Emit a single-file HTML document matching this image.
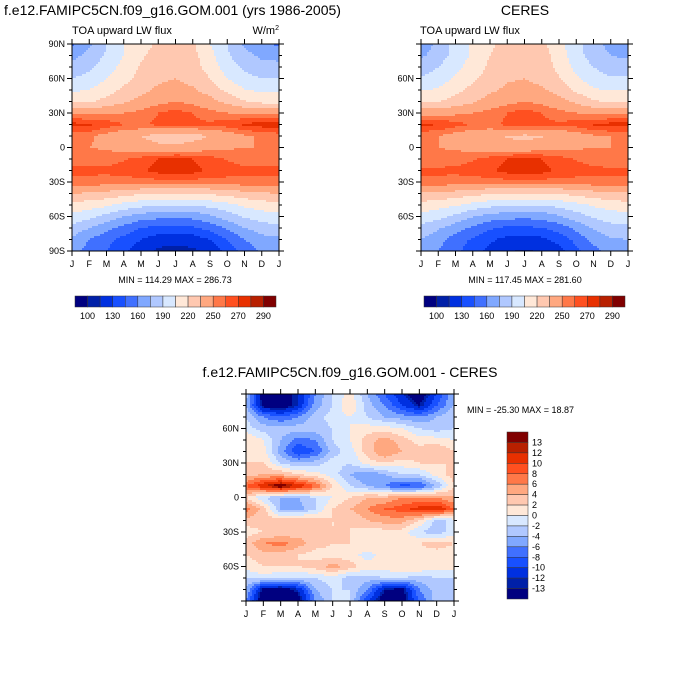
<!DOCTYPE html>
<html><head><meta charset="utf-8">
<style>
html,body{margin:0;padding:0;background:#fff;}
svg{display:block;font-family:"Liberation Sans",sans-serif;}
</style></head>
<body>
<svg id="chart" width="700" height="700" viewBox="0 0 700 700" xmlns="http://www.w3.org/2000/svg">
<text x="4" y="15" font-size="14">f.e12.FAMIPC5CN.f09_g16.GOM.001 (yrs 1986-2005)</text>
<text x="525" y="15" font-size="14" text-anchor="middle">CERES</text>
<text x="72" y="34" font-size="11">TOA upward LW flux</text>
<text x="279" y="34" font-size="11" text-anchor="end">W/m<tspan font-size="7" dy="-4">2</tspan></text>
<text x="420" y="34" font-size="11">TOA upward LW flux</text>
<text x="175" y="283" font-size="9" text-anchor="middle">MIN = 114.29 MAX = 286.73</text>
<text x="525" y="283" font-size="9" text-anchor="middle">MIN = 117.45 MAX = 281.60</text>
<text x="350" y="377" font-size="14" text-anchor="middle">f.e12.FAMIPC5CN.f09_g16.GOM.001 - CERES</text>
<text x="467" y="413" font-size="9">MIN = -25.30 MAX =  18.87</text>
<g id="layer"></g>
</svg>
<script>
const months = ["J","F","M","A","M","J","J","A","S","O","N","D","J"];
const lats = [90,80,70,60,50,40,30,20,10,0,-10,-20,-30,-40,-50,-60,-70,-80,-90];
const fluxLevels = [100,115,130,145,160,175,190,205,220,235,250,260,270,280,290];
const fluxTicks = ["100","130","160","190","220","250","270","290"];
const diffLevels = [-13,-12,-10,-8,-6,-4,-2,0,2,4,6,8,10,12,13];
const diffTicks = ["13","12","10","8","6","4","2","0","-2","-4","-6","-8","-10","-12","-13"];
const colors = ["#000080","#0020a8","#0030e0","#1850ff","#4070ff","#80a8ff","#b0c8ff","#d8e8ff","#ffe8d8","#ffc8b0","#ffa880","#ff7848","#ff5020","#e83000","#b82000","#800000"];
const modelFlux = [
[158,172,190,205,215,222,225,222,205,190,172,162,158],
[170,180,192,205,218,225,228,225,210,192,180,172,170],
[180,187,198,210,222,228,230,226,214,198,187,180,180],
[190,195,205,215,225,232,235,230,220,205,195,190,190],
[202,206,213,223,231,238,240,237,229,216,206,202,202],
[216,218,225,233,240,246,250,246,240,231,221,216,216],
[246,246,248,250,254,260,264,260,254,250,248,246,246],
[274,272,266,260,259,262,264,262,262,266,272,275,276],
[255,252,245,238,235,230,228,230,235,240,248,252,255],
[250,250,248,245,240,238,238,240,245,248,250,250,250],
[256,256,256,259,264,270,272,270,264,259,256,256,256],
[262,262,262,265,268,274,276,274,268,265,262,262,262],
[258,258,256,255,255,256,258,256,255,256,258,258,258],
[235,233,230,226,222,220,220,220,222,226,230,233,235],
[215,212,208,200,195,190,190,190,195,200,208,212,215],
[200,195,185,175,168,165,163,165,172,182,192,198,200],
[185,175,165,155,145,140,140,142,150,162,175,182,185],
[172,160,150,140,130,122,120,122,130,145,160,170,172],
[165,155,145,132,122,112,110,112,120,135,150,162,165]];
const ceresFlux = [
[165,180,195,208,218,224,226,224,210,195,180,170,165],
[172,183,195,208,220,227,229,227,213,196,183,175,172],
[182,190,200,212,223,229,231,228,216,200,190,182,182],
[192,197,207,217,226,233,235,231,221,207,197,192,192],
[204,207,215,225,232,238,240,237,230,217,207,204,204],
[217,219,226,233,241,246,250,246,240,232,222,217,217],
[245,245,247,250,254,260,265,260,254,250,247,245,245],
[273,270,264,259,258,262,264,262,262,265,271,274,274],
[252,250,244,240,237,234,232,234,238,242,248,250,252],
[250,250,248,245,242,240,240,242,245,248,250,250,250],
[255,255,256,259,264,270,272,270,264,259,256,255,255],
[262,262,262,265,268,274,276,274,268,265,262,262,262],
[258,258,256,255,255,256,258,256,255,256,258,258,258],
[234,232,229,225,221,219,219,219,221,225,229,232,234],
[214,211,207,200,195,190,190,190,195,200,207,211,214],
[200,195,186,176,169,166,164,166,173,183,192,198,200],
[186,177,167,157,147,142,142,144,152,164,177,184,186],
[175,165,153,143,133,125,123,126,135,150,165,173,175],
[170,160,150,136,125,116,114,116,125,140,155,166,170]];
const diffVals = [
[-3,-15,-15,-12,-6,-2,1,-4,-8,-12,-15,-10,-4],
[-4,-14,-15,-12,-5,-2,2,-3,-6,-10,-13,-8,-4],
[-2,-6,-8,-6,-3,-1,0,-2,-4,-5,-6,-4,-2],
[-1,-3,-3,-3,-3,-2,0,1,1,0,-2,-3,-2],
[2,0,-4,-7,-6,-2,0,3,5,3,1,1,0],
[2,1,-5,-10,-8,-3,-1,3,6,4,3,4,2],
[2,2,-2,-4,-3,-1,-2,1,2,1,2,2,2],
[3,4,4,2,1,-1,-4,-6,-4,-2,-2,1,3],
[8,12,15,12,8,2,-2,-4,-6,-9,-8,-4,2],
[2,-2,-4,-4,-2,0,2,4,4,6,6,6,4],
[7,3,-4,-5,-2,2,4,6,8,9,11,12,8],
[3,3,3,4,3,2,2,4,5,5,2,-3,-1],
[1,2,2,3,3,2,2,1,1,1,-2,-3,-1],
[3,6,7,5,3,2,2,2,1,1,2,3,2],
[2,3,3,2,1,1,1,-1,1,1,1,1,1],
[1,2,2,2,3,5,3,1,1,2,2,1,1],
[-2,-1,-2,-2,-2,-1,-3,-3,-2,-2,-3,-2,-2],
[-4,-14,-15,-12,-4,-2,-2,-6,-13,-14,-6,-3,-3],
[-6,-16,-16,-15,-6,-2,-2,-10,-15,-15,-8,-3,-4]];

const NS="http://www.w3.org/2000/svg";
const layer=document.getElementById('layer');
function mk(tag,attrs,parent){const e=document.createElementNS(NS,tag);for(const k in attrs)e.setAttribute(k,attrs[k]);(parent||layer).appendChild(e);return e;}
function colorFor(v,levels){let i=0;while(i<levels.length&&v>=levels[i])i++;return colors[i];}
function sample(grid,m,lat){
  const r=(90-lat)/10, c=m;
  const r0=Math.min(Math.floor(r),17), c0=Math.min(Math.floor(c),11);
  const fr=r-r0, fc=c-c0;
  return grid[r0][c0]*(1-fr)*(1-fc)+grid[r0][c0+1]*(1-fr)*fc+grid[r0+1][c0]*fr*(1-fc)+grid[r0+1][c0+1]*fr*fc;
}
function panel(name,x0,y0,W,H,grid,levels,yLabels){
  const g=mk('g',{});
  
  
  const xs=m=>x0+m/12*W, ys=l=>y0+(90-l)/180*H;
  const step=2, n=Math.ceil(H/step), nx=Math.ceil(W/step);
  for(let j=0;j<n;j++){
    const py=y0+j*step, lat=90-((j+0.5)*step)/H*180;
    let runStart=0, runCol=null;
    for(let i=0;i<=nx;i++){
      let col=null;
      if(i<nx){const m=((i+0.5)*step)/W*12;col=colorFor(sample(grid,Math.min(m,12),Math.max(-90,Math.min(90,lat))),levels);}
      if(col!==runCol){
        if(runCol!==null){
          const rx=x0+runStart*step, rw=Math.min(i*step,W)-runStart*step;
          const rc=mk('rect',{x:rx,y:py,width:rw+0.5,height:Math.min(step,y0+H-py)+0.5,fill:runCol},g);
          
          
        }
        runStart=i;runCol=col;
      }
    }
  }
  const fr=mk('rect',{x:x0,y:y0,width:W,height:H,fill:'none',stroke:'#000','stroke-width':1},g);
  
  
  months.forEach((mo,i)=>{
    const x=xs(i);
    mk('line',{x1:x,y1:y0+H,x2:x,y2:y0+H+5,stroke:'#000'},g);
    mk('line',{x1:x,y1:y0,x2:x,y2:y0-5,stroke:'#000'},g);
    const t=mk('text',{x:x,y:y0+H+16,'font-size':9,'text-anchor':'middle'},g);
    t.textContent=mo;
    
    
  });
  for(let l=-90;l<=90;l+=10){
    const y=ys(l);
    if(l%30===0){
      mk('line',{x1:x0,y1:y,x2:x0-5,y2:y,stroke:'#000'},g);
      mk('line',{x1:x0+W,y1:y,x2:x0+W+5,y2:y,stroke:'#000'},g);
    } else {
      mk('line',{x1:x0,y1:y,x2:x0-3,y2:y,stroke:'#000'},g);
      mk('line',{x1:x0+W,y1:y,x2:x0+W+3,y2:y,stroke:'#000'},g);
    }
  }
  yLabels.forEach(([l,s])=>{
    const t=mk('text',{x:x0-7,y:ys(l)+3,'font-size':9,'text-anchor':'end'},g);
    t.textContent=s;
    
    
  });
}
function hbar(name,x0,y0,W,H,ticks){
  const g=mk('g',{});
  
  
  const bw=W/colors.length;
  colors.forEach((c,i)=>{const r=mk('rect',{x:x0+i*bw,y:y0,width:bw,height:H,fill:c,stroke:'#333','stroke-width':0.5},g);
    });
  ticks.forEach((s,k)=>{const t=mk('text',{x:x0+(2*k+1)*bw,y:y0+H+12,'font-size':9,'text-anchor':'middle'},g);t.textContent=s;
    });
}
function vbar(name,x0,y0,W,H,ticks){
  const g=mk('g',{});
  
  
  const bh=H/colors.length;
  colors.slice().reverse().forEach((c,i)=>{const r=mk('rect',{x:x0,y:y0+i*bh,width:W,height:bh,fill:c,stroke:'#333','stroke-width':0.5},g);
    });
  ticks.forEach((s,k)=>{const t=mk('text',{x:x0+W+4,y:y0+(k+1)*bh+3,'font-size':9},g);t.textContent=s;
    });
}
const full=[[90,"90N"],[60,"60N"],[30,"30N"],[0,"0"],[-30,"30S"],[-60,"60S"],[-90,"90S"]];
const part=[[60,"60N"],[30,"30N"],[0,"0"],[-30,"30S"],[-60,"60S"]];
panel('model-panel',72,44,207,207,modelFlux,fluxLevels,full);
panel('ceres-panel',421,44,207,207,ceresFlux,fluxLevels,part);
panel('diff-panel',246,394,208,207,diffVals,diffLevels,part);
hbar('model-colorbar',75,296,201,11,fluxTicks);
hbar('ceres-colorbar',424,296,201,11,fluxTicks);
vbar('diff-colorbar',507,432,21,167,diffTicks);
</script>
</body></html>
